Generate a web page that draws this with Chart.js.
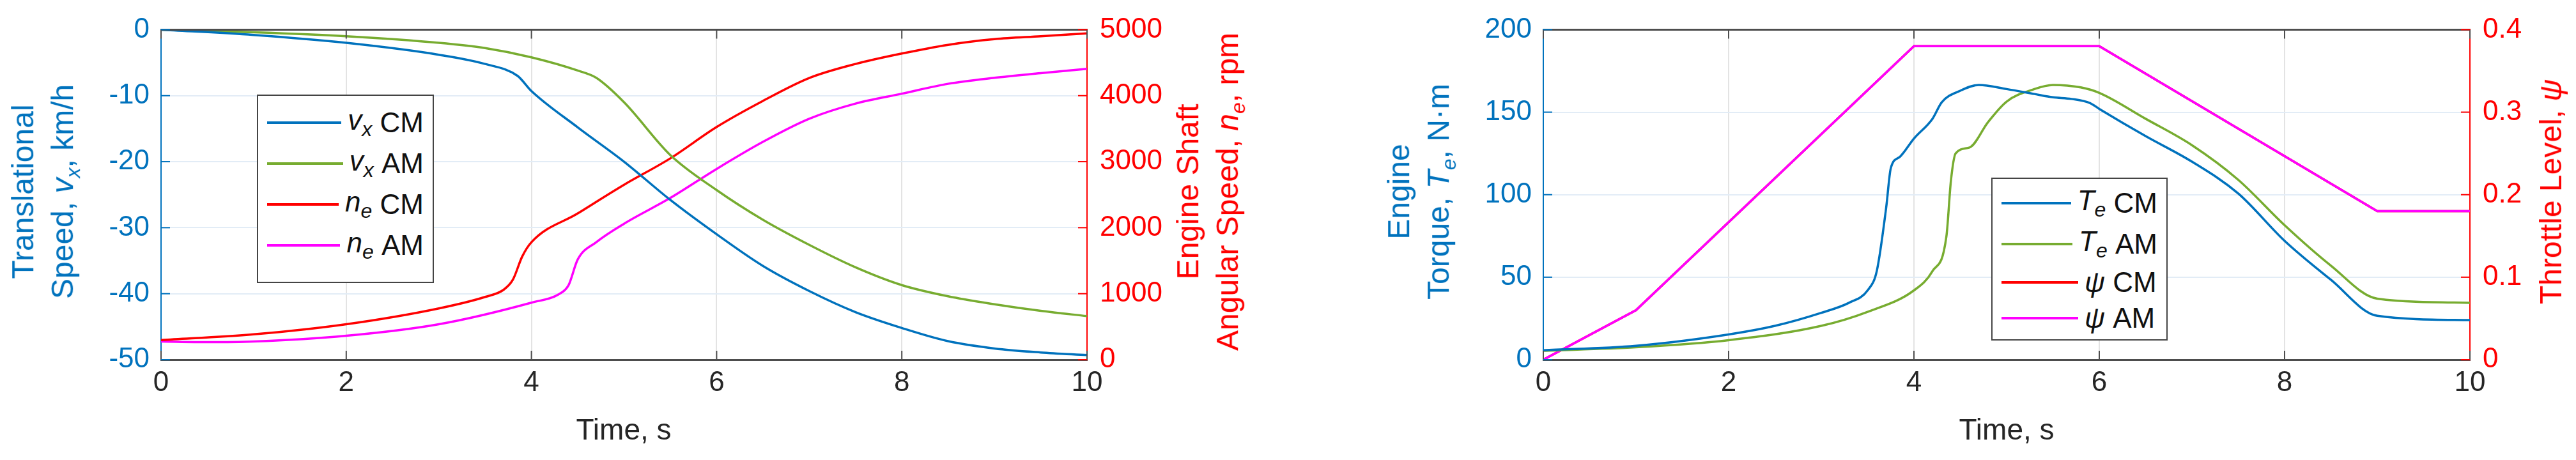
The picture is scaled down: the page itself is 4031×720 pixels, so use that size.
<!DOCTYPE html>
<html><head><meta charset="utf-8">
<script src="https://cdn.jsdelivr.net/npm/chart.js@4"></script>
<style>
body{margin:0;width:4031px;height:720px;background:#fff;position:relative;overflow:hidden;font-family:"Liberation Sans",Arial,sans-serif}
canvas{position:absolute;top:0}
.t{position:absolute;white-space:nowrap;font-size:48px;line-height:62px;text-align:center;transform:translate(-50%,-50%) rotate(-90deg)}
.xl{position:absolute;font-size:46px;color:#262626;transform:translate(-50%,-50%);white-space:nowrap}
.leg{position:absolute;border:2px solid #444;background:#fff;box-sizing:border-box;padding:10px 14px;font-size:44px;color:#111}
.leg div{display:flex;align-items:center;height:64px}
.leg span.l{display:inline-block;width:120px;height:4px;margin-right:10px}
i sub{font-size:32px}
</style></head><body>
<canvas id="c1" width="2016" height="720" style="left:0"></canvas>
<canvas id="c2" width="2015" height="720" style="left:2016px"></canvas>

<div class="t" style="left:75px;top:300px;color:#0072BD">Translational<br>Speed, <i>v<sub>x</sub></i>, km/h</div>
<div class="t" style="left:1898px;top:300px;color:#FF0000">Engine Shaft<br>Angular Speed, <i>n<sub>e</sub></i>, rpm</div>
<div class="t" style="left:2228px;top:300px;color:#0072BD">Engine<br>Torque, <i>T<sub>e</sub></i>, N·m</div>
<div class="t" style="left:3992px;top:300px;color:#FF0000">Throttle Level, <i>ψ</i></div>
<div class="xl" style="left:976px;top:672px">Time, s</div>
<div class="xl" style="left:3140px;top:672px">Time, s</div>

<div class="leg" style="left:402px;top:148px;width:277px;height:295px">
 <div><span class="l" style="background:#0072BD"></span><i>v<sub>x</sub></i>&nbsp;CM</div>
 <div><span class="l" style="background:#77AC30"></span><i>v<sub>x</sub></i>&nbsp;AM</div>
 <div><span class="l" style="background:#FF0000"></span><i>n<sub>e</sub></i>&nbsp;CM</div>
 <div><span class="l" style="background:#FF00FF"></span><i>n<sub>e</sub></i>&nbsp;AM</div>
</div>
<div class="leg" style="left:3116px;top:278px;width:276px;height:255px;padding-top:6px">
 <div><span class="l" style="background:#0072BD"></span><i>T<sub>e</sub></i>&nbsp;CM</div>
 <div><span class="l" style="background:#77AC30"></span><i>T<sub>e</sub></i>&nbsp;AM</div>
 <div style="height:56px"><span class="l" style="background:#FF0000"></span><i>ψ</i>&nbsp;CM</div>
 <div style="height:56px"><span class="l" style="background:#FF00FF"></span><i>ψ</i>&nbsp;AM</div>
</div>

<script>
// ---- Plot 1 data ----
const tVxCM = [0,1,2,3,3.5,3.85,4,4.5,5,5.5,6,6.5,7,7.5,8,8.5,9,9.5,10];
const vxCM  = [0,-0.8,-2,-3.8,-5.2,-7.0,-9.3,-14.8,-20,-25.8,-31,-35.8,-39.6,-42.8,-45.2,-47.2,-48.3,-48.9,-49.3];
const tVxAM = [0,1,2,3,3.5,4,4.5,4.7,5,5.5,6,6.5,7,7.5,8,8.5,9,9.5,10];
const vxAM  = [0,-0.4,-1,-2,-2.8,-4.2,-6.2,-7.3,-11,-19,-24.3,-28.8,-32.6,-36,-38.7,-40.4,-41.6,-42.6,-43.4];
const tNeCM = [0,1,2,3,3.5,3.7,3.8,3.9,4,4.5,5,5.5,6,6.5,7,7.5,8,8.5,9,9.5,10];
const neCM  = [297,384,537,777,951,1060,1213,1562,1780,2216,2650,3050,3525,3920,4267,4480,4638,4770,4856,4900,4943];
const tNeAM = [0,0.5,1,2,3,4,4.3,4.4,4.5,4.7,5,5.5,6,6.5,7,7.5,8,8.5,9,9.5,10];
const neAM  = [275,265,275,362,537,864,995,1126,1518,1780,2060,2450,2890,3300,3650,3880,4030,4180,4270,4340,4407];
// ---- Plot 2 data ----
const tTeCM = [0,1,2,2.5,3,3.3,3.5,3.6,3.7,3.75,3.85,4,4.2,4.3,4.5,4.7,5,5.3,5.5,5.7,5.9,6,6.5,7,7.5,8,8.5,9,10];
const TeCM  = [5.7,8.4,15.3,20.5,28.4,34.5,42,54,92,116,123,134,146,156,163,166.5,164,161,159,158,155.5,152,135.5,120,100.7,72,48.4,26.6,24];
const tTeAM = [0,1,2,3,3.5,4,4.2,4.35,4.4,4.45,4.6,4.8,5,5.3,5.5,5.8,6,6.5,7,7.5,8,8.5,9,10];
const TeAM  = [5.4,7.5,11.8,20.5,29,42,53.7,74.6,109,125,128.6,144,156.4,164,166.5,165,161.7,146,130,109,81.5,57,37,34.5];
const tPsi  = [0,1,4,6,9,10];
const psiCM = [0,0.06,0.38,0.38,0.18,0.18];
const psiAM = [0,0.06,0.38,0.38,0.18,0.18];

const BLUE='#0072BD', GREEN='#77AC30', RED='#FF0000', MAG='#FF00FF', DARK='#262626';
const pts=(t,v)=>t.map((x,i)=>({x,y:v[i]}));
const ds=(t,v,c,ax,ten)=>({data:pts(t,v),borderColor:c,backgroundColor:c,borderWidth:3.5,pointRadius:0,yAxisID:ax,tension:ten,cubicInterpolationMode:ten?'monotone':'default'});

const frame={id:'frame',afterDraw(ch){
  const {ctx,chartArea:a,scales}=ch;ctx.save();ctx.strokeStyle='#4d4d4d';ctx.lineWidth=3;
  ctx.beginPath();ctx.moveTo(a.left,a.top);ctx.lineTo(a.right,a.top);ctx.stroke();
  ctx.lineWidth=2;
  scales.x.ticks.forEach(t=>{const px=scales.x.getPixelForValue(t.value);
    ctx.beginPath();ctx.moveTo(px,a.bottom);ctx.lineTo(px,a.bottom-14);ctx.moveTo(px,a.top);ctx.lineTo(px,a.top+14);ctx.stroke();});
  ctx.strokeStyle=BLUE;scales.y.ticks.forEach(t=>{const py=scales.y.getPixelForValue(t.value);ctx.beginPath();ctx.moveTo(a.left,py);ctx.lineTo(a.left+14,py);ctx.stroke();});
  ctx.strokeStyle=RED;scales.y1.ticks.forEach(t=>{const py=scales.y1.getPixelForValue(t.value);ctx.beginPath();ctx.moveTo(a.right,py);ctx.lineTo(a.right-14,py);ctx.stroke();});
  ctx.restore();}};

function make(id,datasets,yMin,yMax,yStep,y1Min,y1Max,y1Step,lw,rw){
  const f={family:'"Liberation Sans", Arial, sans-serif',size:44};
  new Chart(document.getElementById(id),{type:'line',data:{datasets},plugins:[frame],
   options:{responsive:false,animation:false,devicePixelRatio:1,
    layout:{padding:{top:38,bottom:0,left:0,right:0}},
    plugins:{legend:{display:false},tooltip:{enabled:false}},
    scales:{
     x:{type:'linear',min:0,max:10,ticks:{stepSize:2,color:DARK,font:f,padding:10,maxRotation:0},
        grid:{color:'#e3e3e3',lineWidth:2,drawTicks:false},border:{color:'#4d4d4d',width:3},
        afterFit(s){s.height=157;}},
     y:{position:'left',min:yMin,max:yMax,ticks:{stepSize:yStep,color:BLUE,font:f,padding:18},
        grid:{color:'#e2ecf6',lineWidth:2,drawTicks:false},border:{color:BLUE,width:2},
        afterFit(s){s.width=lw;}},
     y1:{position:'right',min:y1Min,max:y1Max,ticks:{stepSize:y1Step,color:RED,font:f,padding:20,
          callback:v=>String(Math.round(v*10)/10)},
        grid:{display:false,drawTicks:false},border:{color:RED,width:2},
        afterFit(s){s.width=rw;}}
    }}});
}
make('c1',[ds(tVxCM,vxCM,BLUE,'y',0.4),ds(tVxAM,vxAM,GREEN,'y',0.4),ds(tNeCM,neCM,RED,'y1',0.4),ds(tNeAM,neAM,MAG,'y1',0.4)],
  -50,0,10,0,5000,1000,252,315);
make('c2',[ds(tTeCM,TeCM,BLUE,'y',0.4),ds(tTeAM,TeAM,GREEN,'y',0.4),ds(tPsi,psiAM,MAG,'y1',0),ds(tPsi,psiCM,RED,'y1',0)],
  0,200,50,0,0.4,0.1,399,166);
</script>
</body></html>
